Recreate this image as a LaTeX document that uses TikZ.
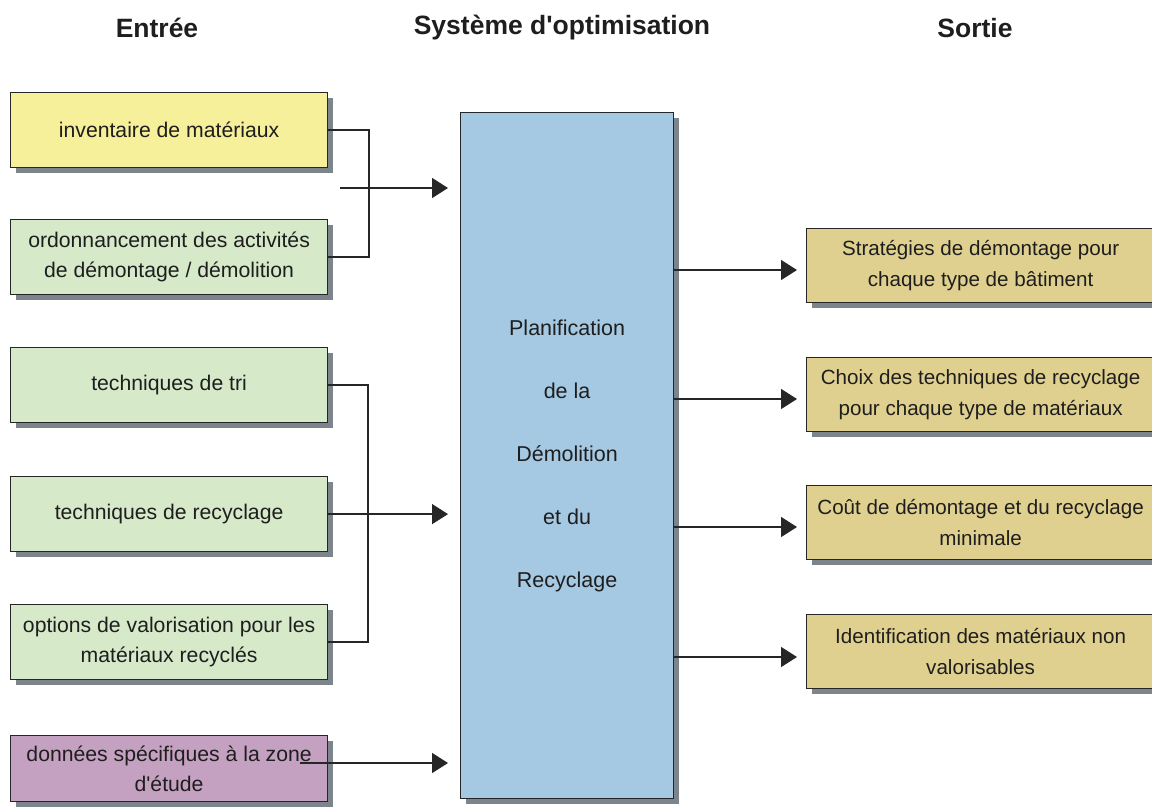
\documentclass[tikz,border=0pt]{standalone}
\usepackage{fontspec}
\setmainfont{Liberation Sans}
\usetikzlibrary{arrows.meta,shadows,calc}
\definecolor{cyellow}{HTML}{F6F09A}
\definecolor{cgreen}{HTML}{D6E9C9}
\definecolor{cpurple}{HTML}{C5A1C1}
\definecolor{cblue}{HTML}{A5C8E3}
\definecolor{ctan}{HTML}{E0D08F}
\definecolor{cshadow}{HTML}{7D858C}
\definecolor{ctext}{HTML}{1E1E1E}
\tikzset{
  box/.style={draw=black!85, line width=1.2pt, rectangle, align=center, inner sep=0pt,
    text=ctext, font=\fontsize{21.2}{30}\selectfont,
    drop shadow={shadow xshift=5pt, shadow yshift=-5pt, fill=cshadow, opacity=1}},
  inbox/.style={box, minimum width=317pt, minimum height=75pt, anchor=north west},
  outbox/.style={box, minimum width=348pt, minimum height=74pt, anchor=north west, fill=ctan,
    font=\fontsize{20.6}{31}\selectfont},
  conn/.style={line width=1.5pt, draw=black!85},
  arr/.style={conn, -{Triangle[length=16pt,width=20pt]}},
  head/.style={font=\fontsize{26.5}{30}\selectfont\bfseries, text=ctext}
}
\begin{document}
\begin{tikzpicture}[x=1pt,y=-1pt]
\useasboundingbox (0,0) rectangle (1152,807);
% headings
\node[head] (hin) at (157,28) {Entrée};
\node[head] (hsys) at (562,28) {Système d\textquotesingle optimisation};
\node[head] (hout) at (975,28) {Sortie};
% input boxes
\node[inbox, fill=cyellow] (inv) at (10,92) {inventaire de matériaux};
\node[inbox, fill=cgreen] (ord) at (10,219) {ordonnancement des activités\\de démontage / démolition};
\node[inbox, fill=cgreen] (tri) at (10,347) {techniques de tri};
\node[inbox, fill=cgreen] (rec) at (10,476) {techniques de recyclage};
\node[inbox, fill=cgreen] (val) at (10,604) {options de valorisation pour les\\matériaux recyclés};
\node[inbox, fill=cpurple, minimum height=66pt] (don) at (10,735) {données spécifiques à la zone\\d\textquotesingle étude};
% central box
\node[box, fill=cblue, minimum width=213pt, minimum height=686pt, anchor=north west,
  font=\fontsize{21.5}{63}\selectfont] (plan) at (460,112) {Planification\\de la\\Démolition\\et du\\Recyclage};
% output boxes
\node[outbox] (s1) at (806,228) {Stratégies de démontage pour\\chaque type de bâtiment};
\node[outbox] (s2) at (806,357) {Choix des techniques de recyclage\\pour chaque type de matériaux};
\node[outbox] (s3) at (806,485) {Coût de démontage et du recyclage\\minimale};
\node[outbox] (s4) at (806,614) {Identification des matériaux non\\valorisables};
% input connectors
\draw[conn] (inv.east) -- ++(41,0) coordinate (j1) |- (ord.east);
\coordinate (a1) at (340,188);
\draw[arr, shorten >=12pt] (a1) -- (plan.west |- a1);
\draw[conn] (tri.east) -- ++(40,0) |- (val.east);
\draw[arr, shorten >=12pt] (rec.east) -- (plan.west |- rec.east);
\coordinate (d0) at (300,763);
\draw[arr, shorten >=12pt] (d0) -- (plan.west |- d0);
% output connectors
\coordinate (o1) at (673,270);
\coordinate (o2) at (673,399);
\coordinate (o3) at (673,527);
\coordinate (o4) at (673,657);
\draw[arr, shorten >=9pt] (o1) -- (s1.west |- o1);
\draw[arr, shorten >=9pt] (o2) -- (s2.west |- o2);
\draw[arr, shorten >=9pt] (o3) -- (s3.west |- o3);
\draw[arr, shorten >=9pt] (o4) -- (s4.west |- o4);
\end{tikzpicture}
\end{document}
